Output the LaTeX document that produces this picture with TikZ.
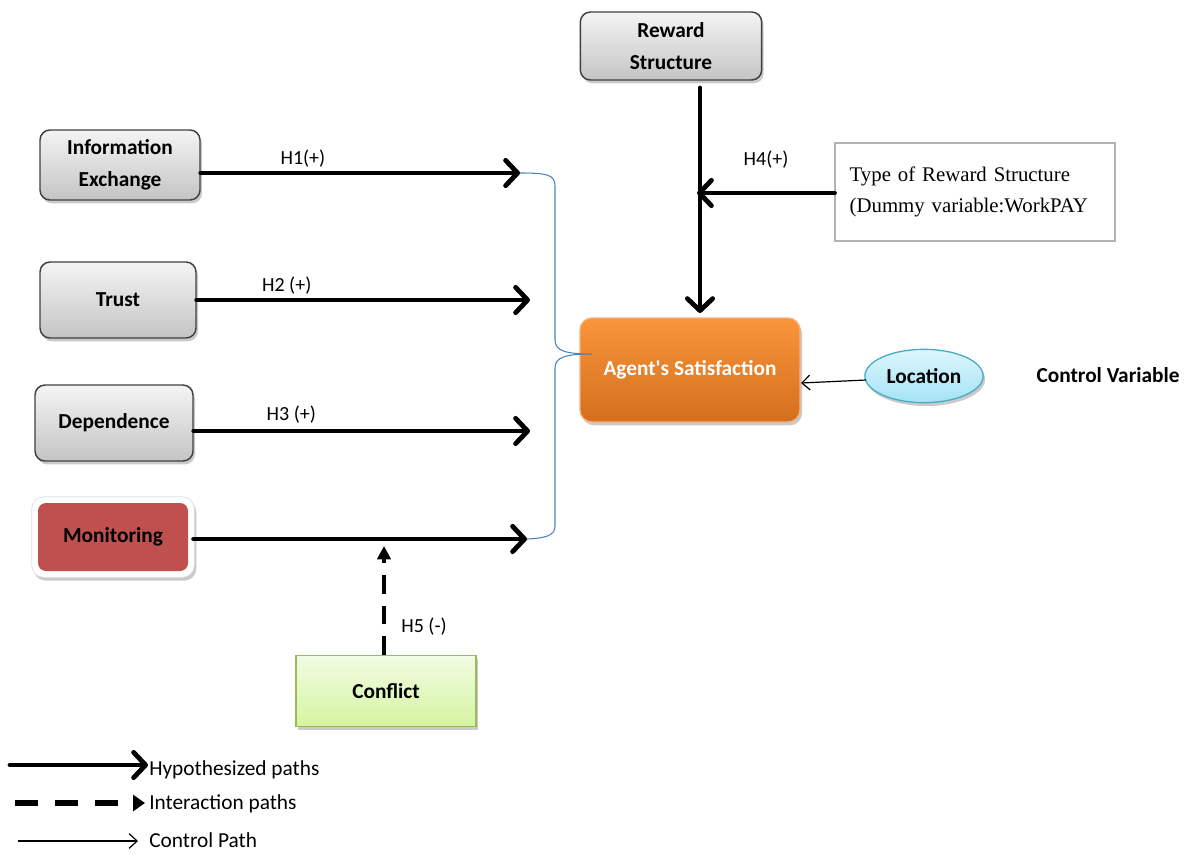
\documentclass[tikz,border=0pt]{standalone}
\usepackage{fontspec}
\setmainfont{Carlito}[Ligatures=TeXOff]
\newfontfamily\timesf{Liberation Serif}
\usetikzlibrary{arrows.meta,shadows,shapes.geometric,backgrounds}
\definecolor{graytop}{HTML}{F4F4F4}
\definecolor{graybot}{HTML}{C4C4C4}
\definecolor{monred}{HTML}{C0504D}
\definecolor{orgtop}{HTML}{F9953A}
\definecolor{orgbot}{HTML}{D46E1E}
\definecolor{orgline}{HTML}{F6B27A}
\definecolor{cyantop}{HTML}{DDF5FC}
\definecolor{cyanbot}{HTML}{A4E4F5}
\definecolor{cyanline}{HTML}{4BACC6}
\definecolor{grntop}{HTML}{F1FCE4}
\definecolor{grnbot}{HTML}{D5F4A0}
\definecolor{grnline}{HTML}{9BBB59}
\definecolor{braceblue}{HTML}{4F81BD}
\tikzset{
  shadowed/.style={drop shadow={shadow xshift=1.5pt,shadow yshift=-2.5pt,opacity=0.35,fill=black!60}},
  graybox/.style={rounded corners=7.5pt,draw=black!75,line width=1.1pt,top color=graytop,bottom color=graybot,
    font=\fontsize{16}{24}\selectfont\bfseries,align=center,shadowed},
  hyp/.style={line width=3.6pt,line cap=round,-{Straight Barb[length=9pt,width=19pt,line width=3.6pt,line cap=round,round]}},
  inter/.style={line width=3.6pt,dash pattern=on 14pt off 9pt,-{Triangle[length=10pt,width=10pt]}},
  ctrl/.style={line width=0.9pt,-{Straight Barb[length=6pt,width=11pt]}},
  lab/.style={font=\fontsize{15}{18}\selectfont},
  leg/.style={font=\fontsize{16}{18}\selectfont},
  brace/.style={draw=braceblue,line width=0.8pt},
}
\begin{document}
\begin{tikzpicture}[x=0.75pt,y=-0.75pt]
\path[use as bounding box] (0,0) rectangle (1187,854);

% nodes
\node[graybox,minimum width=120pt,minimum height=52.5pt] (info) at (120,165) {Information\\Exchange};
\node[graybox,minimum width=117pt,minimum height=57pt] (trust) at (118,300) {Trust};
\node[graybox,minimum width=118.5pt,minimum height=57pt] (dep) at (114,423) {Dependence};
\node[rounded corners=6pt,fill=monred,minimum width=112.5pt,minimum height=51pt,
  font=\fontsize{16}{24}\selectfont\bfseries] (mon) at (113,537) {Monitoring};
\begin{scope}[on background layer]
\path[fill=white,draw=black!12,line width=0.6pt,rounded corners=9pt,
  drop shadow={shadow xshift=1.5pt,shadow yshift=-2.5pt,opacity=0.35,fill=black!60}]
  ([shift={(-4.5pt,4.5pt)}]mon.north west) rectangle ([shift={(4.5pt,-4.5pt)}]mon.south east);
\end{scope}
\node[draw=grnline,line width=1.1pt,top color=grntop,bottom color=grnbot,minimum width=135pt,minimum height=53pt,
  font=\fontsize{16}{24}\selectfont\bfseries,shadowed] (conf) at (386,691) {Conflict};
\node[graybox,minimum width=136pt,minimum height=51pt] (reward) at (671,46) {Reward\\Structure};
\node[draw=black!30,line width=0.8pt,fill=white,text width=188pt,inner xsep=11pt,minimum height=73.5pt,align=left,
  font=\timesf\fontsize{15.6}{23}\selectfont] (type) at (975,192) {Type of Reward Structure\\(Dummy variable:WorkPAY};
\node[rounded corners=9pt,draw=orgline,line width=1pt,top color=orgtop,bottom color=orgbot,minimum width=165pt,minimum height=78pt,
  text=white,font=\fontsize{16}{24}\selectfont\bfseries,shadowed] (agent) at (690,370) {Agent's Satisfaction};
\node[ellipse,draw=cyanline,line width=1pt,top color=cyantop,bottom color=cyanbot,minimum width=87pt,minimum height=40pt,
  font=\fontsize{16}{24}\selectfont\bfseries,shadowed] (loc) at (924,376) {Location};
\node[font=\fontsize{16}{24}\selectfont\bfseries] (cv) at (1108,375) {Control Variable};

% coordinates
\coordinate (e1) at (520,173);
\coordinate (e2) at (530,300);
\coordinate (e3) at (530,431);
\coordinate (e4) at (527,539);
\coordinate (mc) at (384,546);
\coordinate (rt) at (700,88);
\coordinate (rb) at (700,313);
\coordinate (h4) at (697,193);
\coordinate (la) at (801,383);
\coordinate (ls) at (866,380);
\coordinate (bt) at (592,354);

% hypothesized paths
\draw[hyp] (info.east |- e1) -- (e1) node[lab,pos=0.32,above=-1pt] (l1) {H1(+)};
\draw[hyp] (trust.east |- e2) -- (e2) node[lab,pos=0.27,above=-1pt] (l2) {H2 (+)};
\draw[hyp] (dep.east |- e3) -- (e3) node[lab,pos=0.29,above=1pt] (l3) {H3 (+)};
\draw[hyp] ([xshift=4pt]mon.east |- e4) -- (e4);
\draw[hyp] (rt) -- (rb);
\draw[hyp] (type.west |- h4) -- (h4);
\node[lab] (l4) at (766,160) {H4(+)};

% interaction
\draw[inter] (conf.north -| mc) -- (mc);
\node[lab] (l5) at (424,627) {H5 (-)};

% control
\draw[ctrl] (ls) -- (la);

% brace
\draw[brace] (e1) .. controls (548,173) and (555,175) .. (555,186) -- (555,340)
  .. controls (555,351) and (566,354) .. (bt)
  .. controls (566,354) and (555,357) .. (555,368) -- (555,526)
  .. controls (555,536) and (545,538) .. (e4);

% legend
\coordinate (g1a) at (10,765); \coordinate (g1b) at (148,765);
\coordinate (g2a) at (15,803); \coordinate (g2b) at (145,803);
\coordinate (g3a) at (18,841); \coordinate (g3b) at (138,841);
\draw[hyp] (g1a) -- (g1b);
\draw[line width=4pt,dash pattern=on 17pt off 13pt,-{Triangle[length=9pt,width=12pt]}] (g2a) -- (g2b);
\draw[ctrl] (g3a) -- (g3b);
\node[leg,anchor=west,inner sep=0pt] (t1) at (149,770) {Hypothesized paths};
\node[leg,anchor=west,inner sep=0pt] (t2) at (149,804) {Interaction paths};
\node[leg,anchor=west,inner sep=0pt] (t3) at (149,840) {Control Path};
\end{tikzpicture}
\end{document}
